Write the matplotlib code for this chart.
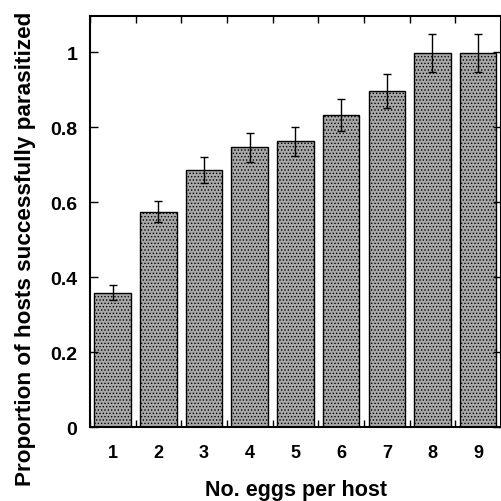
import matplotlib.pyplot as plt
from matplotlib.ticker import MultipleLocator
import matplotlib as mpl

eggs = [1, 2, 3, 4, 5, 6, 7, 8, 9]
proportion = [0.359, 0.575, 0.685, 0.746, 0.762, 0.832, 0.896, 0.998, 0.998]
err = [0.019, 0.029, 0.034, 0.038, 0.039, 0.042, 0.045, 0.05, 0.05]

plt.rcParams['font.family'] = ['Liberation Sans', 'DejaVu Sans']
plt.rcParams['font.weight'] = 'bold'
mpl.rcParams['hatch.linewidth'] = 0.6
mpl.rcParams['hatch.color'] = '#404040'

fig = plt.figure(figsize=(5.02, 5.02), dpi=100)
ax = fig.add_axes([0.179, 0.147, 0.819, 0.819])

ax.bar(eggs, proportion, width=0.8, color='#a8a8a8', edgecolor='black',
       linewidth=1.0, hatch='.....', yerr=err, capsize=3,
       error_kw=dict(ecolor='black', elinewidth=1.0, capthick=1.0))

ax.set_xlim(0.5, 9.5)
ax.set_ylim(0, 1.096)
ax.set_xticks(eggs)
ax.xaxis.set_minor_locator(MultipleLocator(1, offset=0.5))
ax.set_yticks([0, 0.2, 0.4, 0.6, 0.8, 1.0])
ax.set_yticklabels(['0', '0.2', '0.4', '0.6', '0.8', '1'])

ax.tick_params(axis='x', which='major', length=0, labelsize=13, pad=12)
ax.tick_params(axis='x', which='minor', direction='in', length=5, width=1,
               top=True, bottom=True)
ax.tick_params(axis='y', which='major', direction='in', length=6, width=1,
               left=True, right=True, labelsize=14, pad=9)
for s in ax.spines.values():
    s.set_linewidth(1.5)

fig.text(0.590, 0.022, 'No. eggs per host', fontsize=15.5, fontweight='bold',
         ha='center', va='center')
fig.text(0.050, 0.504, 'Proportion of hosts successfully parasitized',
         fontsize=16.2, fontweight='bold', rotation=90, ha='center', va='center')

fig.savefig('out.png', dpi=100)
